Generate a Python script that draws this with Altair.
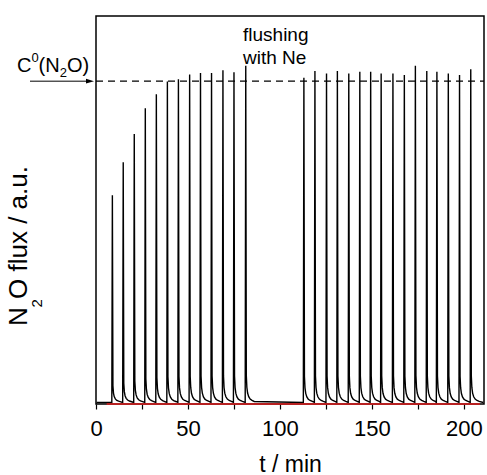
import altair as alt
import pandas as pd

# ---------------- data ----------------
peak_time_1 = [8.9, 14.8, 20.8, 26.8, 32.8, 38.8, 44.8, 50.9, 56.8, 62.8, 69.0, 75.0, 81.4]
peak_height_1 = [0.534, 0.619, 0.692, 0.758, 0.794, 0.827, 0.833, 0.845, 0.849, 0.849, 0.856, 0.851, 0.868]
peak_time_2 = [113.0, 119.0, 125.3, 131.2, 137.4, 143.4, 149.3, 155.0, 161.4, 167.6,
               173.6, 179.8, 185.3, 191.5, 197.6, 203.7]
peak_height_2 = [0.837, 0.854, 0.848, 0.854, 0.848, 0.852, 0.852, 0.848, 0.848, 0.844,
                 0.868, 0.854, 0.852, 0.848, 0.844, 0.859]
# shape of a single pulse (time offset in min, fraction of the peak height)
pulse_offset = [-0.3, 0.0, 0.3, 0.6, 1.0, 1.6, 2.4, 3.4, 4.6]
pulse_fraction = [0.0, 1.0, 0.08, 0.045, 0.028, 0.017, 0.010, 0.006, 0.003]
trace_base = 0.004
trace_start, trace_end = 0.3, 210.5
c0_level = 0.832
red_t = [5.8, 208.7]
red_flux = [0.0, 0.0]
x_ticks = [0, 25, 50, 75, 100, 125, 150, 175, 200]
x_max = 210.9

FONT = "Liberation Sans"

rows = [{"t": trace_start, "flux": trace_base}]
for t0, h in zip(peak_time_1 + peak_time_2, peak_height_1 + peak_height_2):
    for dt, f in zip(pulse_offset, pulse_fraction):
        rows.append({"t": t0 + dt, "flux": trace_base + h * f})
rows.append({"t": trace_end, "flux": trace_base})
trace_df = pd.DataFrame(rows)
red_df = pd.DataFrame({"t": red_t, "flux": red_flux})
dash_df = pd.DataFrame({"t": [0.0, x_max], "flux": [c0_level, c0_level]})
c0_df = pd.DataFrame({"flux": [c0_level]})

x_enc = alt.X(
    "t:Q",
    scale=alt.Scale(domain=[0, x_max], nice=False, zero=False),
    axis=alt.Axis(
        values=x_ticks,
        labelExpr="datum.value % 50 == 0 ? datum.label : ''",
        grid=False,
        domain=False,
        ticks=True,
        tickSize=5,
        tickWidth=1.2,
        tickColor="black",
        labelFont=FONT,
        labelFontSize=22,
        labelColor="black",
        labelPadding=9,
        labelFlush=False,
        title="t / min",
        titleFont=FONT,
        titleFontSize=23,
        titleFontWeight="normal",
        titleColor="black",
        titleBaseline="alphabetic",
        titleAlign="center",
        titleX=194,
        titleY=67,
    ),
)
y_enc = alt.Y("flux:Q", scale=alt.Scale(domain=[0, 1], nice=False), axis=None)

trace = alt.Chart(trace_df).mark_line(color="black", strokeWidth=1.4).encode(x=x_enc, y=y_enc)
red = alt.Chart(red_df).mark_line(color="#e01818", strokeWidth=1.6).encode(x=x_enc, y=y_enc)
dashed = alt.Chart(dash_df).mark_line(color="black", strokeWidth=1.3, strokeDash=[7, 5]).encode(
    x=x_enc, y=y_enc
)
arrow_line = alt.Chart(c0_df).mark_rule(color="black", strokeWidth=1).encode(
    x=alt.value(-66), x2=alt.value(-6), y=y_enc
)
arrow_head = alt.Chart(c0_df).mark_point(
    shape="M1,0 L-1,-0.6 L-1,0.6 Z", filled=True, size=64, color="black", opacity=1
).encode(x=alt.value(-6), y=y_enc)


def label(text, px, py, fs, angle=0):
    kw = dict(align="left", baseline="alphabetic", font=FONT, fontSize=fs, color="black")
    if angle:
        kw["angle"] = angle
    return alt.Chart(c0_df).mark_text(**kw).encode(
        x=alt.value(px), y=alt.value(py), text=alt.value(text)
    )


labels = [
    # C^0(N_2O)
    label("C", -79, 55.5, 20),
    label("0", -64.6, 46.3, 13),
    label("(N", -57.4, 55.5, 20),
    label("2", -36.3, 61.3, 13),
    label("O)", -29.1, 55.5, 20),
    # flushing with Ne
    label("flushing", 147, 25, 19),
    label("with Ne", 147, 48, 19),
    # y title: N_2O flux / a.u.
    label("N", -69, 310, 26, 270),
    label("2", -54, 291.5, 15, 270),
    label("O flux / a.u.", -69, 283, 26, 270),
]

chart = (
    alt.layer(dashed, trace, red, arrow_line, arrow_head, *labels)
    .properties(
        width=388,
        height=388,
        autosize=alt.AutoSizeParams(type="none"),
        padding={"left": 96, "top": 16, "right": 3, "bottom": 71},
        background="white",
    )
    .configure_view(stroke="black", strokeWidth=1.5)
)

chart.save("out.html", embed_options={"renderer": "svg", "actions": False})
